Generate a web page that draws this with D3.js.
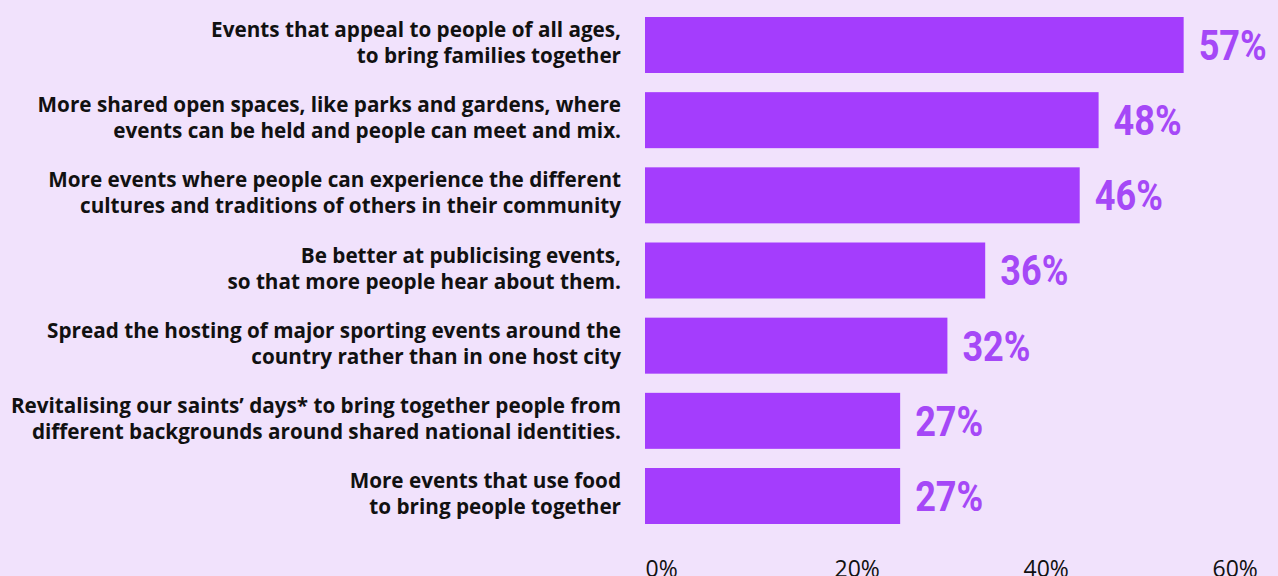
<!DOCTYPE html>
<html>
<head>
    <meta charset="utf-8">
    <title>Ways to bring people together</title>
    <script src="https://d3js.org/d3.v7.min.js"></script>
    <style>
        html, body { margin: 0; height: 100%; background: #f1e2fc; overflow: hidden; }
        svg { display: block; }
        .cat { font-family: "Open Sans", "Noto Sans", sans-serif; font-weight: 700; font-size: 20.7px; fill: #111; }
        .val { font-family: Roboto, "DejaVu Sans", sans-serif; font-weight: 700; font-size: 42px; fill: #a548f7; }
        .tick text { font-family: "Open Sans", "Noto Sans", sans-serif; font-size: 23px; fill: #111; }
    </style>
</head>
<body>
    <svg></svg>
    <script>
        // categories (two lines each) and share of respondents
        var labels = [
            ["Events that appeal to people of all ages,", "to bring families together"],
            ["More shared open spaces, like parks and gardens, where", "events can be held and people can meet and mix."],
            ["More events where people can experience the different", "cultures and traditions of others in their community"],
            ["Be better at publicising events,", "so that more people hear about them."],
            ["Spread the hosting of major sporting events around the", "country rather than in one host city"],
            ["Revitalising our saints\u2019 days* to bring together people from", "different backgrounds around shared national identities."],
            ["More events that use food", "to bring people together"]
        ];
        var values = [57, 48, 46, 36, 32, 27, 27];
        var ticks = [0, 20, 40, 60];

        const width = 1278, height = 576;
        var svg = d3.select("svg").attr("width", width).attr("height", height);

        var x = d3.scaleLinear().domain([0, 60]).range([645, 1212]);
        var y = d3.scaleBand().domain(d3.range(values.length)).range([17, 524]).paddingInner(0.255).paddingOuter(0);
        var mid = i => y(i) + y.bandwidth() / 2;

        svg.append("g")
            .selectAll("rect")
            .data(values)
            .enter().append("rect")
            .attr("x", x(0))
            .attr("y", (d, i) => y(i))
            .attr("width", d => x(d) - x(0))
            .attr("height", y.bandwidth())
            .attr("fill", "#a43dfd");

        // big condensed percentages
        svg.append("g")
            .selectAll("text")
            .data(values)
            .enter().append("text")
            .attr("class", "val")
            .attr("transform", (d, i) => "translate(" + (x(d) + 15) + "," + mid(i) + ") scale(0.86,1)")
            .attr("dy", "0.355em")
            .text(d => d + "%");

        var cat = svg.append("g")
            .selectAll("text")
            .data(labels)
            .enter().append("text")
            .attr("class", "cat")
            .attr("text-anchor", "end");
        cat.append("tspan").attr("x", 621).attr("y", (d, i) => mid(i) - 8).text(d => d[0]);
        cat.append("tspan").attr("x", 621).attr("y", (d, i) => mid(i) + 18).text(d => d[1]);

        var axis = svg.append("g")
            .attr("transform", "translate(0,577)")
            .call(d3.axisBottom(x).tickValues(ticks).tickFormat(d => d + "%").tickSize(0).tickPadding(0));
        axis.select(".domain").remove();
        axis.selectAll(".tick text").attr("text-anchor", "start").attr("y", 0).attr("dy", 0);
    </script>
</body>
</html>
